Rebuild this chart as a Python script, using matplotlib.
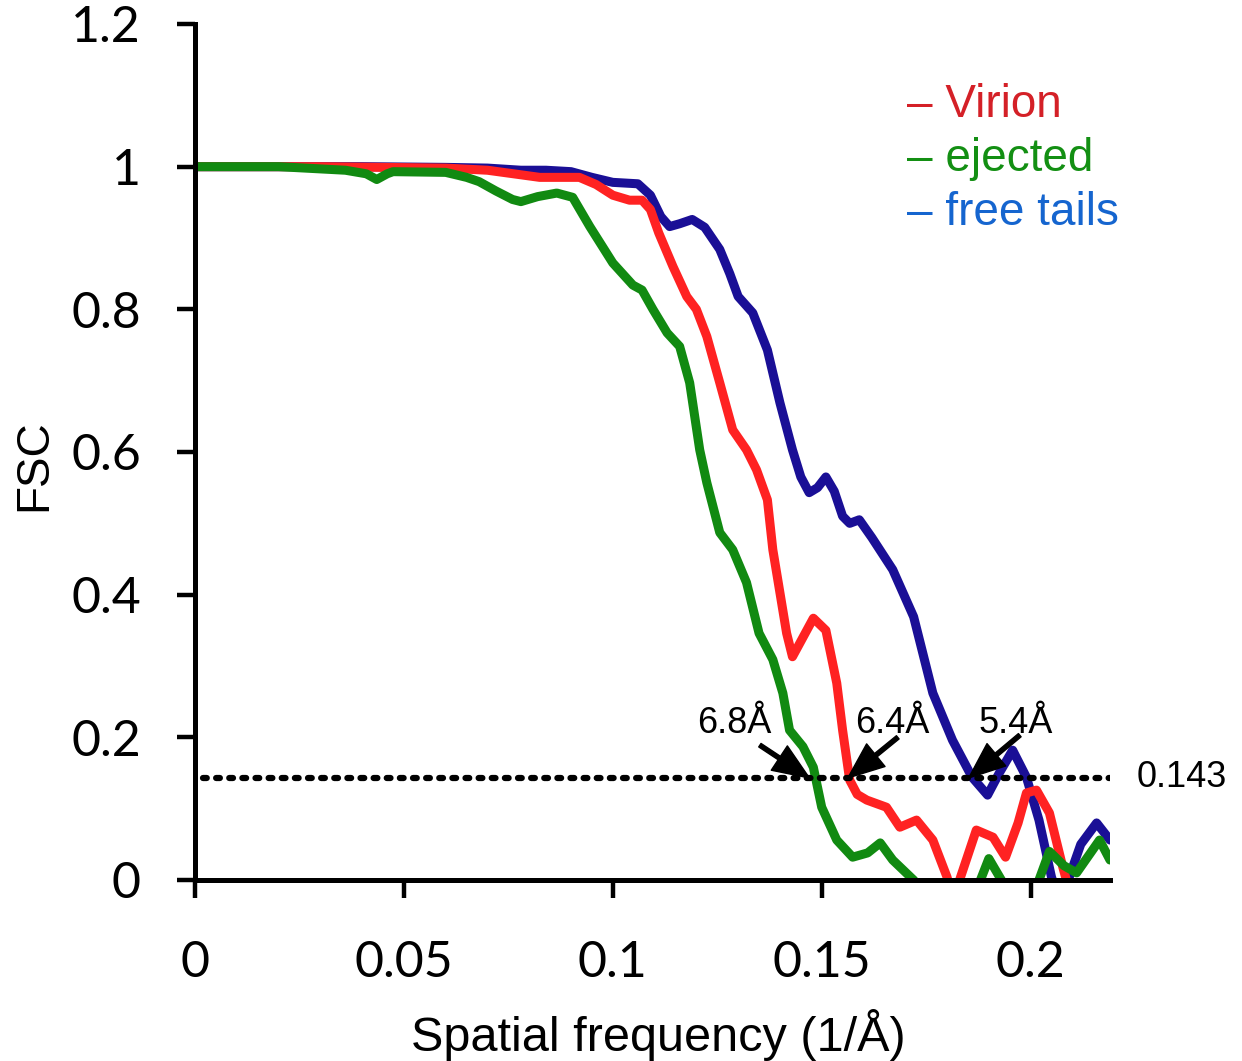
import matplotlib
matplotlib.use("Agg")
import matplotlib.pyplot as plt

# ---- data ----
virion_x = [0, 0.03, 0.06, 0.07, 0.0825, 0.092, 0.096, 0.1, 0.104, 0.107, 0.109, 0.111, 0.1144,
            0.1177, 0.12, 0.1225, 0.1256, 0.1287, 0.132, 0.1344, 0.137, 0.1383, 0.1416, 0.143,
            0.1455, 0.148, 0.151, 0.1536, 0.155, 0.1567, 0.1585, 0.1608, 0.1655, 0.1687, 0.1727,
            0.1766, 0.18, 0.1815, 0.183, 0.187, 0.191, 0.194, 0.197, 0.199, 0.2014, 0.2045,
            0.2077, 0.210, 0.212]
virion_y = [1.0, 1.0, 0.998, 0.995, 0.985, 0.985, 0.975, 0.96, 0.953, 0.953, 0.94, 0.907, 0.86,
            0.818, 0.80, 0.762, 0.697, 0.631, 0.603, 0.575, 0.533, 0.463, 0.346, 0.313,
            0.34, 0.367, 0.35, 0.276, 0.21, 0.14, 0.12, 0.112, 0.102, 0.074, 0.084,
            0.056, 0.004, -0.03, 0.0, 0.07, 0.06, 0.032, 0.08, 0.122, 0.126, 0.094,
            0.018, -0.03, -0.05]

ejected_x = [0, 0.02, 0.036, 0.041, 0.0435, 0.046, 0.0474, 0.06, 0.065, 0.068, 0.072, 0.076, 0.078,
             0.082, 0.0866, 0.0904, 0.0945, 0.1, 0.1048, 0.107, 0.1096, 0.113, 0.116, 0.1184,
             0.1208, 0.1225, 0.1256, 0.1287, 0.132, 0.135, 0.1383, 0.1407, 0.1423, 0.1455, 0.148,
             0.150, 0.1536, 0.1574, 0.161, 0.164, 0.167, 0.172, 0.176, 0.186, 0.188, 0.19, 0.193,
             0.196, 0.200, 0.202, 0.2045, 0.208, 0.211, 0.2165, 0.219]
ejected_y = [1.0, 1.0, 0.995, 0.99, 0.982, 0.99, 0.993, 0.992, 0.985, 0.979, 0.966, 0.954, 0.951,
             0.958, 0.963, 0.957, 0.916, 0.865, 0.834, 0.827, 0.80, 0.767, 0.748, 0.697,
             0.603, 0.557, 0.487, 0.463, 0.417, 0.346, 0.309, 0.262, 0.21, 0.187, 0.158,
             0.102, 0.056, 0.032, 0.038, 0.052, 0.028, 0.0, -0.03, -0.03, 0.0, 0.03, 0.0,
             -0.03, -0.03, 0.0, 0.04, 0.02, 0.01, 0.056, 0.028]

tails_x = [0, 0.02, 0.04, 0.06, 0.07, 0.078, 0.084, 0.09, 0.095, 0.1, 0.106, 0.109, 0.1115, 0.1136,
           0.116, 0.119, 0.122, 0.1256, 0.128, 0.130, 0.1335, 0.137, 0.140, 0.143, 0.145, 0.147,
           0.149, 0.151, 0.153, 0.155, 0.1567, 0.159, 0.162, 0.167, 0.172, 0.1766, 0.1813, 0.186,
           0.1897, 0.1925, 0.1957, 0.199, 0.202, 0.205, 0.207, 0.209, 0.212, 0.2158, 0.219]
tails_y = [1.0, 1.0, 1.0, 0.999, 0.998, 0.995, 0.995, 0.993, 0.985, 0.978, 0.976, 0.96, 0.93, 0.916,
           0.92, 0.926, 0.915, 0.884, 0.85, 0.818, 0.795, 0.743, 0.669, 0.603, 0.565, 0.543,
           0.55, 0.565, 0.545, 0.51, 0.50, 0.505, 0.48, 0.435, 0.369, 0.262, 0.196, 0.144,
           0.119, 0.15, 0.182, 0.144, 0.084, 0.004, -0.03, 0.0, 0.05, 0.08, 0.056]

threshold = 0.143
resolutions = ["6.8Å", "6.4Å", "5.4Å"]
res_freq = [1 / 6.8, 1 / 6.4, 1 / 5.4]

series_names = ["Virion", "ejected", "free tails"]
xticks = [0, 0.05, 0.1, 0.15, 0.2]
xtick_labels = ["0", "0.05", "0.1", "0.15", "0.2"]
yticks = [0, 0.2, 0.4, 0.6, 0.8, 1.0, 1.2]
ytick_labels = ["0", "0.2", "0.4", "0.6", "0.8", "1", "1.2"]

# ---- figure ----
fig = plt.figure(figsize=(12.42, 10.61), dpi=100)
ax = fig.add_axes([195 / 1242, 1 - 880 / 1061, (1110 - 195) / 1242, (880 - 24) / 1061])

lw = 6.5
kw = dict(lw=lw, solid_joinstyle="round", solid_capstyle="round")
ax.plot(tails_x, tails_y, color="#1a0f96", zorder=3, **kw)
ax.plot(virion_x, virion_y, color="#ff2222", zorder=4, **kw)
ax.plot(ejected_x, ejected_y, color="#118a11", zorder=5, **kw)

ax.plot([0.002, 0.219], [threshold, threshold], color="black", lw=4.5,
        linestyle=(0, (0.6, 1.5)), dash_capstyle="round", zorder=6)

ax.set_xlim(0, 0.219)
ax.set_ylim(0, 1.2)

for s in ["top", "right"]:
    ax.spines[s].set_visible(False)
for s in ["left", "bottom"]:
    ax.spines[s].set_linewidth(3.6)
    ax.spines[s].set_zorder(7)

ax.set_xticks(xticks)
ax.set_xticklabels(xtick_labels, fontsize=36, family="Lato")
ax.set_yticks(yticks)
ax.set_yticklabels(ytick_labels, fontsize=36, family="Lato")
ax.tick_params(axis="both", direction="out", length=13, width=3.2)
ax.tick_params(axis="x", pad=30)
ax.tick_params(axis="y", pad=26)

fig.text(658 / 1242, 1 - 1035 / 1061, "Spatial frequency (1/Å)", fontsize=35,
         family="Liberation Sans", ha="center", va="center")
fig.text(34 / 1242, 1 - 465 / 1061, "FSC", fontsize=33, family="Liberation Sans",
         rotation=90, ha="center", va="center")

# annotations
text_pos = [(0.1290, 0.206), (0.1668, 0.206), (0.1964, 0.206)]
tails = [(0.1352, 0.189), (0.1682, 0.200), (0.1974, 0.203)]
for lab, fx, tp, tl in zip(resolutions, res_freq, text_pos, tails):
    ax.annotate("", xy=(fx, threshold), xytext=tl,
                arrowprops=dict(facecolor="black", edgecolor="black", width=3,
                                headwidth=21, headlength=26, shrink=0), zorder=8)
    ax.text(tp[0], tp[1], lab, fontsize=26, family="Liberation Sans", ha="center",
            va="baseline", zorder=8)

ax.text(1.0 + 27 / 915, threshold, "0.143", transform=ax.get_yaxis_transform(),
        fontsize=26, family="Liberation Sans", va="center", ha="left")

# legend as colored text
leg_colors = ["#d42027", "#138f13", "#1565cf"]
for i, (name, c) in enumerate(zip(series_names, leg_colors)):
    fig.text(907 / 1242, 1 - (117 + 54 * i) / 1061, "– " + name, color=c,
             fontsize=33, family="Liberation Sans", ha="left", va="baseline")

fig.savefig("out.png", dpi=100)
